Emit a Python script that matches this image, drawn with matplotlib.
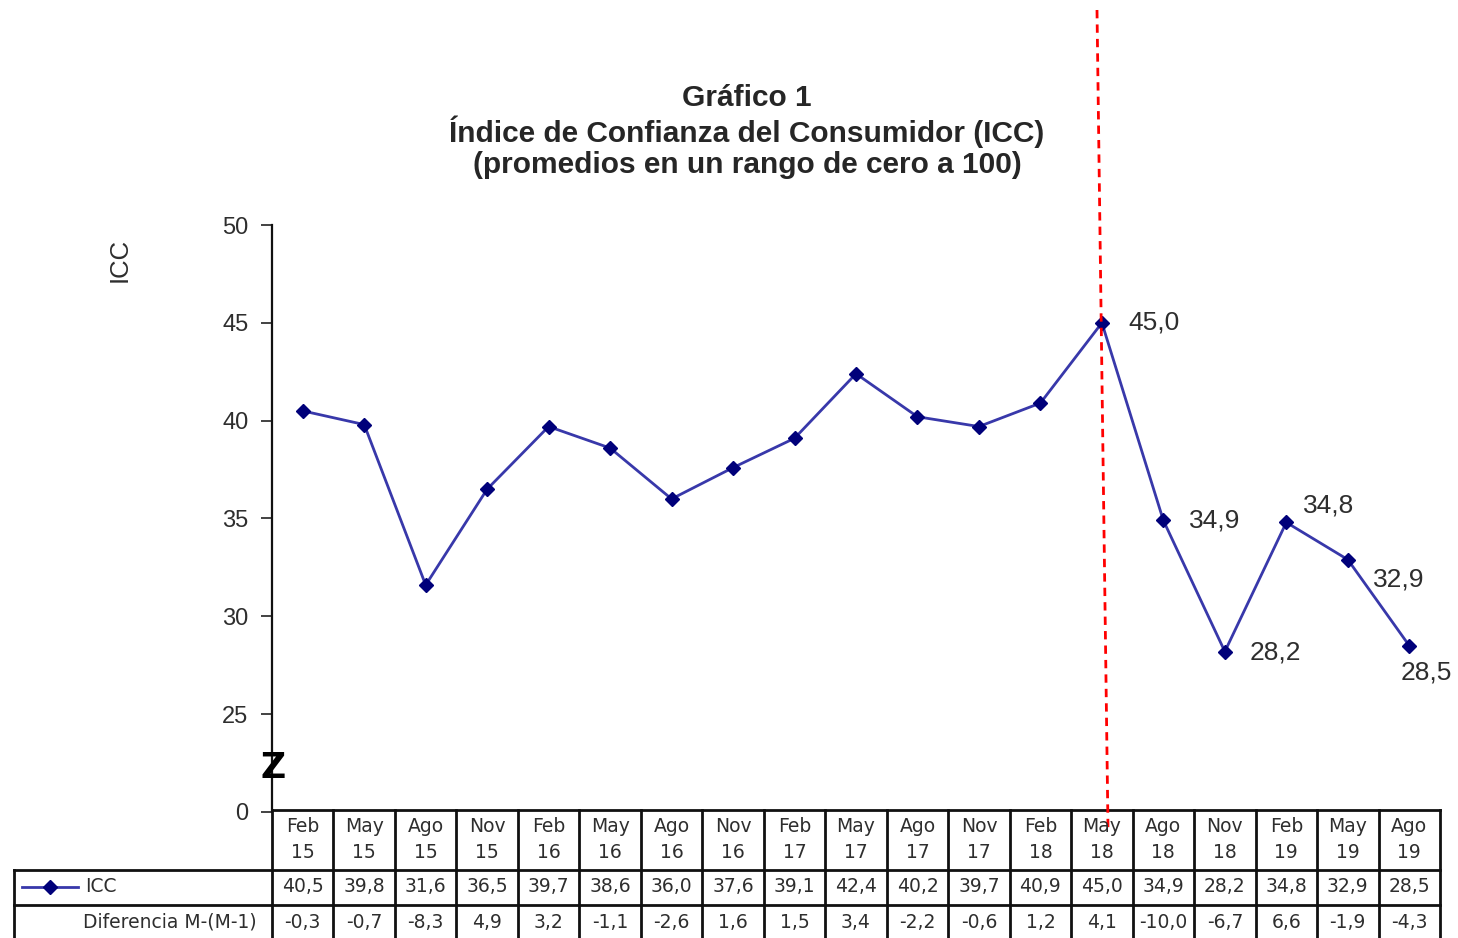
import matplotlib
matplotlib.use("Agg")
import matplotlib.pyplot as plt
from matplotlib.lines import Line2D
import numpy as np

W, H = 1458, 938

months = ["Feb", "May", "Ago", "Nov", "Feb", "May", "Ago", "Nov", "Feb", "May",
          "Ago", "Nov", "Feb", "May", "Ago", "Nov", "Feb", "May", "Ago"]
years = ["15", "15", "15", "15", "16", "16", "16", "16", "17", "17",
         "17", "17", "18", "18", "18", "18", "19", "19", "19"]
icc = [40.5, 39.8, 31.6, 36.5, 39.7, 38.6, 36.0, 37.6, 39.1, 42.4,
       40.2, 39.7, 40.9, 45.0, 34.9, 28.2, 34.8, 32.9, 28.5]
diff = [-0.3, -0.7, -8.3, 4.9, 3.2, -1.1, -2.6, 1.6, 1.5, 3.4,
        -2.2, -0.6, 1.2, 4.1, -10.0, -6.7, 6.6, -1.9, -4.3]

# which points get a value label, and where it sits (pixels from the marker)
label_offsets = {13: (26, 0), 14: (26, 0), 15: (25, -1),
                 16: (17, 17), 17: (25, -20), 18: (-9, -27)}

y_ticks = [20, 25, 30, 35, 40, 45, 50]
y_tick_labels = ["0", "25", "30", "35", "40", "45", "50"]

LINE = "#3838aa"
MARK = "#00007a"
TXT = "#2e2e2e"


def fmt(v):
    return f"{v:.1f}".replace(".", ",")


fig = plt.figure(figsize=(W / 100, H / 100), dpi=100)

left, right, top, bottom = 272, 1440, 225, 812
ax = fig.add_axes([left / W, 1 - bottom / H, (right - left) / W, (bottom - top) / H])
x = np.arange(len(icc))
ax.plot(x, icc, color=LINE, lw=2, marker="D", ms=7.5,
        markerfacecolor=MARK, markeredgecolor=MARK, zorder=3)
ax.set_xlim(-0.5, len(icc) - 0.5)
ax.set_ylim(20, 50)
ax.set_yticks(y_ticks)
ax.set_yticklabels(y_tick_labels, fontfamily="Liberation Sans", fontsize=17, color=TXT)
ax.tick_params(axis="y", length=8, width=1.2, pad=9, colors="#222222", labelcolor=TXT)
ax.set_xticks([])
for side in ("top", "right", "bottom"):
    ax.spines[side].set_visible(False)
ax.spines["left"].set_linewidth(1.6)
ax.spines["left"].set_color("#111111")

for i, (dx, dy) in label_offsets.items():
    ax.annotate(fmt(icc[i]), (x[i], icc[i]), xytext=(dx, dy), textcoords="offset pixels",
                ha="left", va="center", fontfamily="Liberation Sans", fontsize=19, color=TXT)

# titles and axis name
title_font = dict(ha="center", va="center", fontfamily="Liberation Sans",
                  fontweight="bold", fontsize=21.5, color="#262626")
fig.text(747 / W, 1 - 98 / H, "Gráfico 1", **title_font)
fig.text(747 / W, 1 - 132 / H, "Índice de Confianza del Consumidor (ICC)", **title_font)
fig.text(747 / W, 1 - 165 / H, "(promedios en un rango de cero a 100)", **title_font)
fig.text(120 / W, 1 - 260 / H, "ICC", rotation=90, ha="center", va="center",
         fontfamily="Liberation Sans", fontsize=18.5, color=TXT)
fig.text(273 / W, 1 - 768 / H, "Z", ha="center", va="center",
         fontfamily="DejaVu Sans", fontweight="bold", fontsize=25, color="black")

# data table under the chart, in pixel coordinates
tab = fig.add_axes([0, 0, 1, 1], zorder=5)
tab.set_xlim(0, W)
tab.set_ylim(H, 0)
tab.axis("off")
tab.patch.set_alpha(0)

n = len(icc)
cw = (right - left) / n
edges = [left + cw * k for k in range(n + 1)]
r0, r1, r2, r3 = 810, 870, 905, 942
lab_left = 14
lw_grid = 2.0
tab.plot([left, right], [r0, r0], color="#111111", lw=lw_grid)
tab.plot([lab_left, right], [r1, r1], color="#111111", lw=lw_grid)
tab.plot([lab_left, right], [r2, r2], color="#111111", lw=lw_grid)
tab.plot([lab_left, lab_left], [r1, r3], color="#111111", lw=lw_grid)
for e in edges:
    tab.plot([e, e], [r0, r3], color="#111111", lw=lw_grid)

tfont = dict(fontfamily="DejaVu Sans", fontsize=13.5, color=TXT, ha="center", va="center")
for k in range(n):
    cx = (edges[k] + edges[k + 1]) / 2
    tab.text(cx, 827, months[k], **tfont)
    tab.text(cx, 853, years[k], **tfont)
    tab.text(cx, 887, fmt(icc[k]), **tfont)
    tab.text(cx, 922, fmt(diff[k]), **tfont)

tab.add_line(Line2D([22, 78], [887, 887], color=LINE, lw=2))
tab.plot([50], [887], marker="D", ms=7, color=MARK)
tab.text(85, 887, "ICC", fontfamily="DejaVu Sans", fontsize=13.5, color=TXT, ha="left", va="center")
tab.text(257, 922, "Diferencia M-(M-1)", fontfamily="DejaVu Sans", fontsize=13.5, color=TXT,
         ha="right", va="center")

# marker for the May 2018 break
tab.add_line(Line2D([1097, 1108], [10, 828], color="red", lw=2, dashes=(3, 2.2)))

fig.savefig("out.png", dpi=100)
